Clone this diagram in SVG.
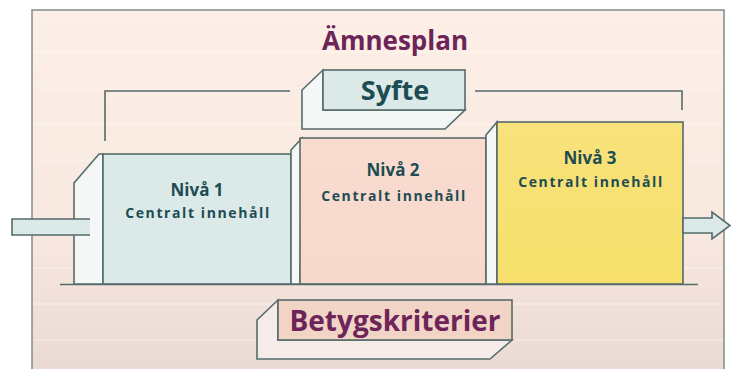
<svg xmlns="http://www.w3.org/2000/svg" width="731" height="369" viewBox="0 0 731 369">
<defs>
<linearGradient id="bg" x1="0" y1="0" x2="0" y2="1">
<stop offset="0" stop-color="#fcefe6"/>
<stop offset="0.6" stop-color="#f8e8e0"/>
<stop offset="1" stop-color="#e9d9d3"/>
</linearGradient>
<linearGradient id="yel" x1="0" y1="0" x2="0" y2="1">
<stop offset="0" stop-color="#f8e27c"/>
<stop offset="1" stop-color="#f6e06a"/>
</linearGradient>
<linearGradient id="pk" x1="0" y1="0" x2="0" y2="1">
<stop offset="0" stop-color="#f9dccf"/>
<stop offset="1" stop-color="#f6d8cc"/>
</linearGradient>
<style>
.ln{stroke:#566b6a;stroke-width:1.6;fill:none}
.sh{stroke:#566b6a;stroke-width:1.6}
.side{fill:#f4f7f6}
.teal{fill:#dbe9e9}
.t{font-family:"Open Sans","Noto Sans",sans-serif;font-weight:700;text-anchor:middle}
.niv{fill:#1d4c52;font-size:17px}
.ci{fill:#1d4c52;font-size:14px;letter-spacing:1.6px}
.pur{fill:#6d2458}
</style>
</defs>
<rect x="0" y="0" width="731" height="369" fill="#ffffff"/>
<rect x="32" y="10" width="692" height="370" fill="url(#bg)" stroke="#7d8c8a" stroke-width="1.5"/>
<g stroke="#ffffff" stroke-opacity="0.5" stroke-width="1">
<line x1="33" y1="52" x2="723" y2="52"/>
<line x1="33" y1="88" x2="723" y2="88"/>
<line x1="33" y1="124" x2="723" y2="124"/>
<line x1="33" y1="160" x2="723" y2="160"/>
<line x1="33" y1="268" x2="723" y2="268"/>
<line x1="33" y1="304" x2="723" y2="304"/>
<line x1="33" y1="340" x2="723" y2="340"/>
</g>
<g id="title">
<text class="t pur" x="395" y="50" font-size="26">Ämnesplan</text>
</g>
<g id="connectors">
<polyline class="ln" points="105,141 105,91 290,91"/>
<polyline class="ln" points="475,91 682,91 682,110"/>
<line class="ln" x1="60" y1="284.5" x2="698" y2="284.5"/>
</g>
<g id="niva1">
<polygon class="side sh" points="74,284 74,183 99,154 103,154 103,284"/>
<rect class="teal sh" x="103" y="154" width="188" height="130"/>
<text class="t niv" x="197" y="196">Nivå 1</text>
<text class="t ci" x="198" y="218">Centralt innehåll</text>
</g>
<g id="input-arrow">
<rect class="teal" x="12" y="219" width="78" height="16"/>
<polyline class="ln" points="90,219 12,219 12,235 90,235"/>
</g>
<g id="niva2">
<polygon class="side sh" points="291,284 291,150 302,138 300,284"/>
<rect fill="url(#pk)" class="sh" x="300" y="138" width="186" height="146"/>
<text class="t niv" x="393" y="176">Nivå 2</text>
<text class="t ci" x="394" y="201">Centralt innehåll</text>
</g>
<g id="niva3">
<polygon class="side sh" points="486,284 486,135 497,122 497,284"/>
<rect fill="url(#yel)" class="sh" x="497" y="122" width="186" height="162"/>
<text class="t niv" x="590" y="164">Nivå 3</text>
<text class="t ci" x="591" y="187">Centralt innehåll</text>
</g>
<g id="output-arrow">
<polygon class="teal sh" points="683,218 712,218 712,212 730,225.5 712,239 712,233 683,233"/>
</g>
<g id="syfte">
<polygon class="side sh" points="302,90 323,70 323,110 465,110 445,129 302,129"/>
<rect class="teal sh" x="323" y="70" width="142" height="40"/>
<text class="t" x="395" y="100" font-size="27" fill="#1d4c52">Syfte</text>
</g>
<g id="betygskriterier">
<polygon class="sh" fill="#f5ecea" points="257,320 278,300 278,340 512,340 490,359 257,359"/>
<rect class="sh" fill="#f1d4c6" x="278" y="300" width="234" height="40"/>
<text class="t pur" x="395" y="331" font-size="28">Betygskriterier</text>
</g>
</svg>
